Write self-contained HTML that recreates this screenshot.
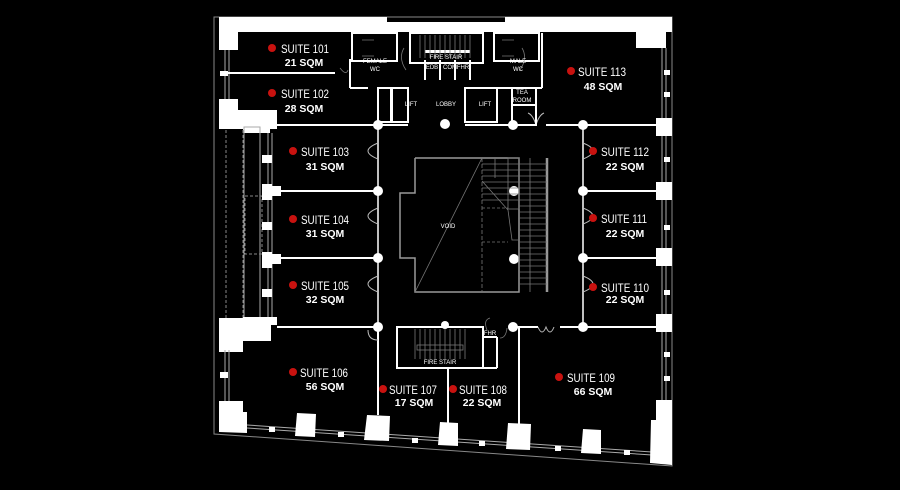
<!DOCTYPE html>
<html><head><meta charset="utf-8"><style>
html,body{margin:0;padding:0;background:#000;}
svg{display:block}
text{font-family:"Liberation Sans",sans-serif;fill:#fff}
.s{font-size:12px}
.q{font-size:10.5px;font-weight:bold}
.t{font-size:6px}
</style></head><body>
<svg width="900" height="490" viewBox="0 0 900 490" xmlns="http://www.w3.org/2000/svg">
<rect width="900" height="490" fill="#000"/>
<path d="M214,17 L672,17 L672,466 L214,434 Z" fill="none" stroke="#888" stroke-width="1"/>
<rect x="219" y="17" width="168" height="15" fill="#fff"/>
<rect x="505" y="17" width="167" height="15" fill="#fff"/>
<rect x="387" y="22" width="118" height="10" fill="#fff"/>
<rect x="219" y="17" width="19" height="33" fill="#fff"/>
<rect x="636" y="17" width="30" height="31" fill="#fff"/>
<line x1="225" y1="50" x2="225" y2="100" stroke="#aaa"/>
<line x1="229" y1="50" x2="229" y2="100" stroke="#aaa"/>
<rect x="220" y="71" width="8" height="5" fill="#fff"/>
<line x1="228" y1="73" x2="335" y2="73" stroke="#fff" stroke-width="2"/>
<line x1="662" y1="48" x2="662" y2="440" stroke="#aaa"/>
<line x1="666" y1="48" x2="666" y2="440" stroke="#aaa"/>
<rect x="664" y="70" width="6" height="5" fill="#fff"/>
<rect x="664" y="92" width="6" height="5" fill="#fff"/>
<rect x="656" y="118" width="16" height="18" fill="#fff"/>
<rect x="656" y="182" width="16" height="18" fill="#fff"/>
<rect x="656" y="248" width="16" height="18" fill="#fff"/>
<rect x="656" y="314" width="16" height="18" fill="#fff"/>
<rect x="664" y="157" width="6" height="5" fill="#fff"/>
<rect x="664" y="225" width="6" height="5" fill="#fff"/>
<rect x="664" y="290" width="6" height="5" fill="#fff"/>
<rect x="664" y="352" width="6" height="5" fill="#fff"/>
<rect x="664" y="376" width="6" height="5" fill="#fff"/>
<rect x="219" y="99" width="19" height="30" fill="#fff"/>
<rect x="219" y="110" width="58" height="19" fill="#fff"/>
<rect x="243" y="110" width="27" height="23" fill="#fff"/>
<line x1="226" y1="130" x2="226" y2="318" stroke="#888" stroke-dasharray="3,2"/>
<line x1="243" y1="130" x2="243" y2="318" stroke="#888" stroke-dasharray="3,2"/>
<rect x="244" y="127" width="16" height="198" fill="none" stroke="#aaa"/>
<rect x="245" y="196" width="17" height="58" fill="none" stroke="#888" stroke-dasharray="3,2"/>
<line x1="268" y1="133" x2="268" y2="318" stroke="#aaa"/>
<line x1="272" y1="133" x2="272" y2="318" stroke="#aaa"/>
<rect x="262" y="155" width="10" height="8" fill="#fff"/>
<rect x="262" y="184" width="10" height="16" fill="#fff"/>
<rect x="262" y="186" width="19" height="10" fill="#fff"/>
<rect x="262" y="222" width="10" height="8" fill="#fff"/>
<rect x="262" y="252" width="10" height="16" fill="#fff"/>
<rect x="262" y="254" width="19" height="10" fill="#fff"/>
<rect x="262" y="289" width="10" height="8" fill="#fff"/>
<rect x="219" y="318" width="24" height="34" fill="#fff"/>
<rect x="243" y="317" width="28" height="24" fill="#fff"/>
<rect x="264" y="317" width="13" height="8" fill="#fff"/>
<line x1="225" y1="350" x2="225" y2="402" stroke="#aaa"/>
<line x1="229" y1="350" x2="229" y2="402" stroke="#aaa"/>
<rect x="220" y="372" width="8" height="6" fill="#fff"/>
<g stroke="#fff" stroke-width="2">
<line x1="277" y1="125" x2="378" y2="125"/>
<line x1="277" y1="191" x2="378" y2="191"/>
<line x1="277" y1="258" x2="378" y2="258"/>
<line x1="277" y1="327" x2="378" y2="327"/>
<line x1="378" y1="125" x2="408" y2="125"/>
<line x1="465" y1="125" x2="522" y2="125"/>
<line x1="546" y1="125" x2="656" y2="125"/>
<line x1="583" y1="191" x2="656" y2="191"/>
<line x1="583" y1="258" x2="656" y2="258"/>
<line x1="583" y1="327" x2="656" y2="327"/>
<line x1="513" y1="327" x2="538" y2="327"/>
<line x1="560" y1="327" x2="583" y2="327"/>
<line x1="378" y1="327" x2="378" y2="415"/>
<line x1="448" y1="368" x2="448" y2="423"/>
<line x1="519" y1="327" x2="519" y2="425"/>
</g>
<g stroke="#fff" stroke-width="1.5" fill="none">
<line x1="378" y1="125" x2="378" y2="325"/>
<line x1="583" y1="125" x2="583" y2="325"/>
</g>
<g stroke="#bbb" fill="none" stroke-width="1">
<path d="M378,143 q-10,4 -10,8 q0,4 10,8"/>
<path d="M378,208 q-10,4 -10,8 q0,4 10,8"/>
<path d="M378,276 q-10,4 -10,8 q0,4 10,8"/>
<path d="M583,143 q10,4 10,8 q0,4 -10,8"/>
<path d="M583,208 q10,4 10,8 q0,4 -10,8"/>
<path d="M583,276 q10,4 10,8 q0,4 -10,8"/>
<path d="M538,327 q4,10 8,0 q4,10 8,0"/>
<path d="M536,125 q-3,-10 -8,-12 M536,125 q3,-10 8,-12"/>
<path d="M378,340 q-10,0 -10,-10"/>
</g>
<g fill="none" stroke="#fff" stroke-width="2">
<polyline points="350,73 350,60 352,60"/>
<rect x="352" y="33" width="45" height="28"/>
<rect x="410" y="33" width="73" height="30"/>
<rect x="494" y="33" width="45" height="28"/>
<rect x="378" y="88" width="30" height="34"/>
<rect x="465" y="88" width="32" height="34"/>
<rect x="512" y="88" width="24" height="37"/>
<line x1="512" y1="105" x2="536" y2="105"/>
<line x1="350" y1="88" x2="368" y2="88"/>
<line x1="497" y1="88" x2="512" y2="88"/>
<line x1="536" y1="88" x2="542" y2="88"/>
<line x1="542" y1="33" x2="542" y2="88"/>
<line x1="350" y1="73" x2="350" y2="88"/>
<line x1="425" y1="60" x2="425" y2="80"/>
<line x1="440" y1="60" x2="440" y2="80"/>
<line x1="455" y1="60" x2="455" y2="80"/>
<line x1="470" y1="60" x2="470" y2="80"/>
</g>
<rect x="425" y="50" width="45" height="3" fill="#fff"/>
<g stroke="#777" fill="none" stroke-width="0.8">
<path d="M420,35v23M425,35v23M430,35v23M435,35v23M440,35v23M445,35v23M450,35v23M455,35v23M460,35v23M465,35v23M470,35v23"/>
<path d="M362,40 h12 M362,56 h12 M502,40 h12 M502,56 h12"/>
<path d="M406,70 q-8,-12 -2,-22 M520,70 q8,-12 2,-22 M340,68 q6,8 8,2"/>
</g>
<rect x="390" y="88" width="3" height="34" fill="#fff"/>
<g fill="#fff">
<circle cx="378" cy="125" r="5"/><circle cx="445" cy="124" r="5"/><circle cx="513" cy="125" r="5"/><circle cx="583" cy="125" r="5"/>
<circle cx="378" cy="191" r="5"/><circle cx="583" cy="191" r="5"/>
<circle cx="378" cy="258" r="5"/><circle cx="583" cy="258" r="5"/>
<circle cx="378" cy="327" r="5"/><circle cx="513" cy="327" r="5"/><circle cx="583" cy="327" r="5"/><circle cx="445" cy="325" r="4"/>
<circle cx="514" cy="191" r="5"/><circle cx="514" cy="259" r="5"/>
</g>
<g fill="none" stroke="#999" stroke-width="1.5">
<polyline points="415,158 519,158 519,292 415,292 415,258 400,258 400,193 415,193 415,158"/>
<line x1="547" y1="158" x2="547" y2="292" stroke-width="2.5"/>
</g>
<g stroke="#777" fill="none" stroke-width="0.8">
<line x1="415" y1="292" x2="482" y2="158"/>
<line x1="482" y1="158" x2="482" y2="292" stroke-dasharray="4,2"/>
<polyline points="482,181 508,210 512,240 519,240"/>
<path d="M482,208 h26 M482,242 h26" stroke-dasharray="3,2"/>
<rect x="508" y="158" width="11" height="51"/>
<path d="M482,164 h65 M482,170 h65 M482,176 h65 M482,182 h65 M482,188 h65 M482,194 h65 M482,200 h65 M519,206 h28 M519,212 h28 M519,218 h28 M519,224 h28 M519,230 h28 M519,236 h28 M519,242 h28 M519,248 h28 M519,254 h28 M519,260 h28 M519,266 h28 M519,272 h28 M519,278 h28 M519,284 h28"/>
<path d="M530,158 v134 M495,158 v20"/>
</g>
<g fill="none" stroke="#fff" stroke-width="2">
<rect x="397" y="327" width="86" height="41"/>
<line x1="483" y1="337" x2="497" y2="337"/>
<line x1="497" y1="337" x2="497" y2="368"/>
<line x1="483" y1="368" x2="497" y2="368"/>
</g>
<g stroke="#777" fill="none" stroke-width="0.8">
<path d="M415,329v30M420,329v30M425,329v30M430,329v30M435,329v30M440,329v30M445,329v30M450,329v30M455,329v30M460,329v30M465,329v30"/>
<rect x="417" y="345" width="46" height="5"/>
<path d="M487,330 q-4,-10 3,-12 M500,338 q6,0 7,-10"/>
</g>
<line x1="247" y1="425" x2="652" y2="452" stroke="#aaa" stroke-width="1"/>
<line x1="247" y1="428" x2="652" y2="455" stroke="#aaa" stroke-width="1"/>
<g fill="#fff">
<polygon points="219,401 243,401 243,412 247,412 247,433 219,432"/>
<polygon points="297,413 316,414 315,437 295,436"/>
<polygon points="367,415 390,416 389,441 364,440"/>
<polygon points="440,422 458,423 458,446 438,445"/>
<polygon points="508,423 531,424 530,450 506,449"/>
<polygon points="583,429 601,430 601,454 581,453"/>
<polygon points="656,400 672,400 672,465 650,463 651,420 656,420"/>
<rect x="269" y="427" width="6" height="5"/>
<rect x="338" y="432" width="6" height="5"/>
<rect x="412" y="438" width="6" height="5"/>
<rect x="479" y="441" width="6" height="5"/>
<rect x="555" y="446" width="6" height="5"/>
<rect x="624" y="450" width="6" height="5"/>
</g>
<g class="t" text-anchor="middle">
<text x="375" y="63">FEMALE</text><text x="375" y="71">WC</text>
<text x="446" y="59">FIRE STAIR</text>
<text x="432" y="69">EDB</text><text x="450" y="69">COM</text><text x="463" y="69">FHR</text>
<text x="518" y="63">MALE</text><text x="518" y="71">WC</text>
<text x="411" y="106">LIFT</text><text x="446" y="106">LOBBY</text><text x="485" y="106">LIFT</text>
<text x="522" y="94">TEA</text><text x="522" y="102">ROOM</text>
<text x="448" y="228">VOID</text>
<text x="440" y="364">FIRE STAIR</text>
<text x="490" y="335">FHR</text>
</g>
<g fill="#c8120f">
<circle cx="272" cy="48" r="4"/><circle cx="272" cy="93" r="4"/>
<circle cx="293" cy="151" r="4"/><circle cx="293" cy="219" r="4"/><circle cx="293" cy="285" r="4"/>
<circle cx="293" cy="372" r="4"/><circle cx="383" cy="389" r="4"/><circle cx="453" cy="389" r="4"/>
<circle cx="559" cy="377" r="4"/><circle cx="593" cy="287" r="4"/><circle cx="593" cy="218" r="4"/>
<circle cx="593" cy="151" r="4"/><circle cx="571" cy="71" r="4"/>
</g>
<g class="s" lengthAdjust="spacingAndGlyphs">
<text x="281" y="53" textLength="48" lengthAdjust="spacingAndGlyphs">SUITE 101</text>
<text x="281" y="98" textLength="48" lengthAdjust="spacingAndGlyphs">SUITE 102</text>
<text x="301" y="156" textLength="48" lengthAdjust="spacingAndGlyphs">SUITE 103</text>
<text x="301" y="224" textLength="48" lengthAdjust="spacingAndGlyphs">SUITE 104</text>
<text x="301" y="290" textLength="48" lengthAdjust="spacingAndGlyphs">SUITE 105</text>
<text x="300" y="377" textLength="48" lengthAdjust="spacingAndGlyphs">SUITE 106</text>
<text x="389" y="394" textLength="48" lengthAdjust="spacingAndGlyphs">SUITE 107</text>
<text x="459" y="394" textLength="48" lengthAdjust="spacingAndGlyphs">SUITE 108</text>
<text x="567" y="382" textLength="48" lengthAdjust="spacingAndGlyphs">SUITE 109</text>
<text x="601" y="292" textLength="48" lengthAdjust="spacingAndGlyphs">SUITE 110</text>
<text x="601" y="223" textLength="46" lengthAdjust="spacingAndGlyphs">SUITE 111</text>
<text x="601" y="156" textLength="48" lengthAdjust="spacingAndGlyphs">SUITE 112</text>
<text x="578" y="76" textLength="48" lengthAdjust="spacingAndGlyphs">SUITE 113</text>
</g>
<g class="q" text-anchor="middle">
<text x="304" y="66">21 SQM</text>
<text x="304" y="112">28 SQM</text>
<text x="325" y="170">31 SQM</text>
<text x="325" y="237">31 SQM</text>
<text x="325" y="303">32 SQM</text>
<text x="325" y="390">56 SQM</text>
<text x="414" y="406">17 SQM</text>
<text x="482" y="406">22 SQM</text>
<text x="593" y="395">66 SQM</text>
<text x="625" y="303">22 SQM</text>
<text x="625" y="237">22 SQM</text>
<text x="625" y="170">22 SQM</text>
<text x="603" y="90">48 SQM</text>
</g>
</svg>
</body></html>
